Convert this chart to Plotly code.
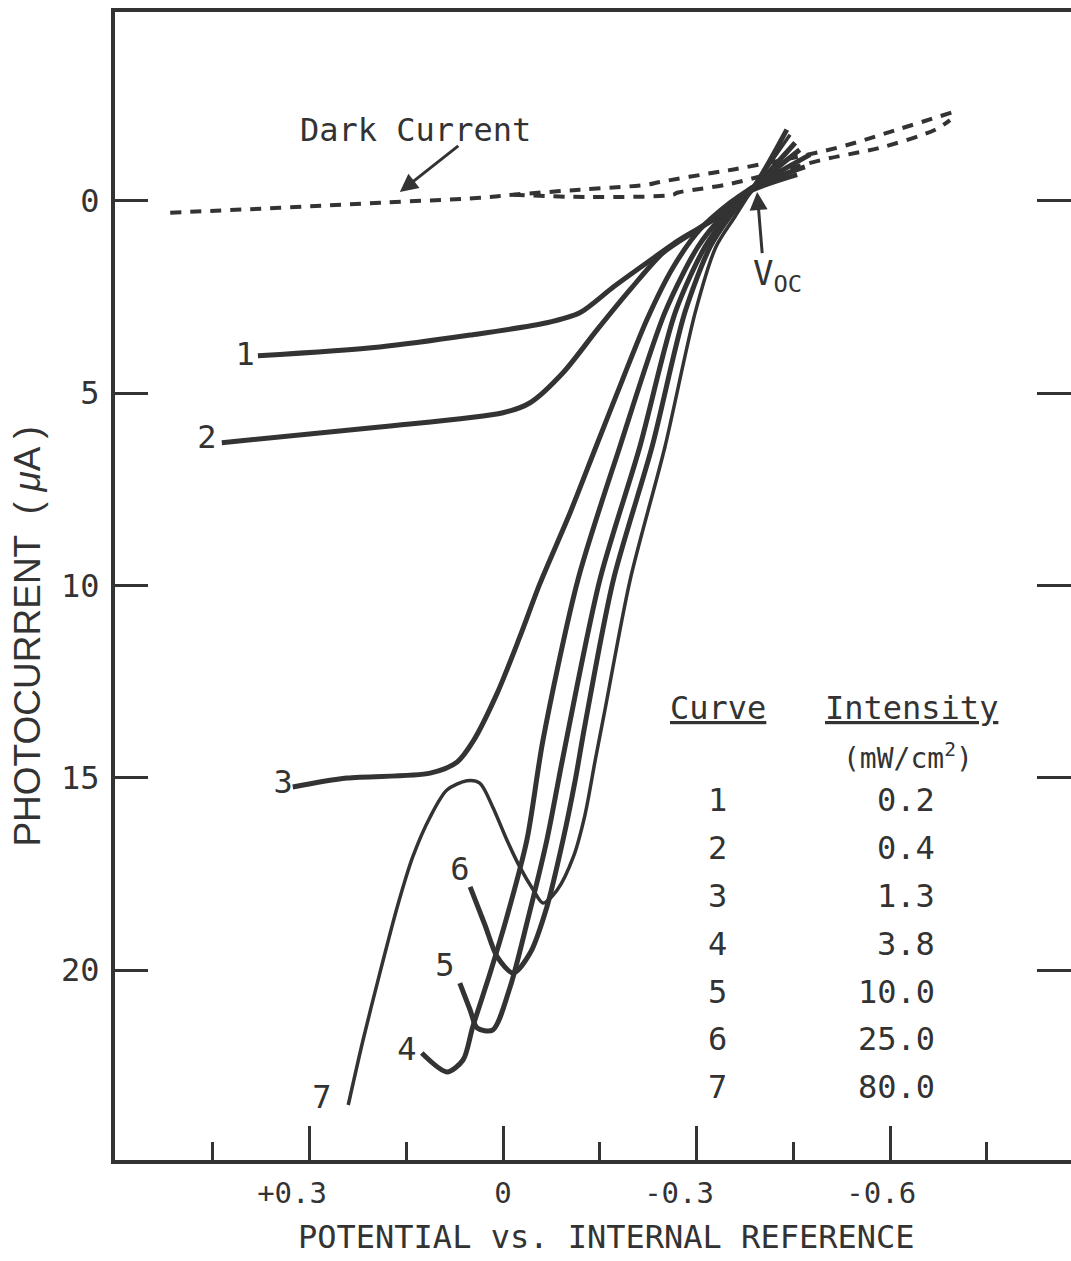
import plotly.graph_objects as go

# ---------------- data (potential V, photocurrent uA) ----------------
c1_v = [0.380, 0.191, 0.051, -0.068, -0.119, -0.171, -0.223, -0.274, -0.326, -0.378, -0.456]
c1_i = [4.03, 3.80, 3.49, 3.17, 2.91, 2.24, 1.61, 1.01, 0.49, -0.21, -0.68]

c2_v = [0.436, 0.191, 0.000, -0.042, -0.093, -0.146, -0.197, -0.248, -0.301, -0.352, -0.386, -0.468]
c2_i = [6.29, 5.88, 5.51, 5.25, 4.47, 3.35, 2.31, 1.35, 0.75, 0.16, -0.34, -0.88]

c3_v = [0.326, 0.242, 0.113, 0.071, 0.047, 0.009, -0.026, -0.057, -0.104, -0.144, -0.185, -0.223, -0.264, -0.305, -0.352, -0.386, -0.476]
c3_i = [15.24, 15.01, 14.88, 14.59, 14.07, 12.80, 11.34, 9.96, 8.11, 6.40, 4.66, 3.09, 1.72, 0.75, 0.05, -0.34, -1.20]

c4_v = [0.126, 0.087, 0.062, 0.047, 0.020, -0.006, -0.037, -0.062, -0.116, -0.181, -0.251, -0.302, -0.340, -0.386, -0.453]
c4_i = [22.16, 22.65, 22.34, 21.48, 20.08, 18.62, 16.62, 14.02, 9.86, 6.40, 2.90, 1.20, 0.40, -0.29, -1.51]

c5_v = [0.067, 0.051, 0.040, 0.016, -0.011, -0.037, -0.068, -0.093, -0.150, -0.212, -0.267, -0.313, -0.347, -0.386, -0.440]
c5_i = [20.34, 21.04, 21.51, 21.56, 20.44, 18.78, 16.62, 14.46, 9.86, 6.40, 2.90, 1.20, 0.40, -0.29, -1.85]

c6_v = [0.051, 0.028, 0.009, -0.016, -0.042, -0.068, -0.093, -0.112, -0.127, -0.171, -0.231, -0.282, -0.321, -0.352, -0.386, -0.460]
c6_i = [17.84, 18.83, 19.66, 20.08, 19.56, 18.36, 16.62, 15.06, 13.63, 9.86, 6.40, 2.90, 1.20, 0.40, -0.29, -1.33]

c7_v = [0.240, 0.217, 0.191, 0.164, 0.140, 0.113, 0.087, 0.056, 0.036, 0.016, -0.006, -0.026, -0.047, -0.062, -0.084, -0.109, -0.127, -0.143, -0.158, -0.197, -0.251, -0.298, -0.330, -0.360, -0.386, -0.445]
c7_i = [23.51, 21.82, 20.08, 18.36, 17.06, 16.02, 15.32, 15.08, 15.14, 15.76, 16.62, 17.32, 17.92, 18.26, 17.92, 17.06, 15.97, 14.54, 13.24, 9.86, 6.40, 2.90, 1.20, 0.40, -0.29, -1.72]

dark_a_v = [0.516, 0.346, 0.191, 0.036, -0.016, -0.119, -0.223, -0.243, -0.326, -0.372, -0.518, -0.611, -0.698]
dark_a_i = [0.31, 0.18, 0.05, -0.08, -0.16, -0.29, -0.42, -0.49, -0.73, -0.86, -1.38, -1.85, -2.31]
dark_b_v = [-0.016, -0.130, -0.264, -0.270, -0.352, -0.496, -0.589, -0.670, -0.693]
dark_b_i = [-0.16, -0.10, -0.16, -0.21, -0.44, -1.07, -1.40, -1.85, -2.10]

curves_v = [c1_v, c2_v, c3_v, c4_v, c5_v, c6_v, c7_v]
curves_i = [c1_i, c2_i, c3_i, c4_i, c5_i, c6_i, c7_i]
curve_names = ["1", "2", "3", "4", "5", "6", "7"]
label_v = [0.400, 0.459, 0.341, 0.149, 0.090, 0.067, 0.281]
label_i = [4.06, 6.22, 15.19, 22.13, 19.95, 17.45, 23.38]
intensities = ["0.2", "0.4", "1.3", "3.8", "10.0", "25.0", "80.0"]

x_tickvals = [0.3, 0.0, -0.3, -0.6]
x_ticktext = ["+0.3\u00a0\u00a0", "0", "-0.3\u00a0\u00a0", "-0.6\u00a0"]
x_minorvals = [0.45, 0.15, -0.15, -0.45, -0.75]
y_tickvals = [0, 5, 10, 15, 20]

INK = "#333333"
MONO = "DejaVu Sans Mono"

fig = go.Figure()

for v, i in [(dark_a_v, dark_a_i), (dark_b_v, dark_b_i)]:
    fig.add_trace(go.Scatter(x=v, y=i, mode="lines", showlegend=False,
                             line=dict(color=INK, width=4, dash="11px,9px", shape="spline")))

for k, (v, i) in enumerate(zip(curves_v, curves_i)):
    fig.add_trace(go.Scatter(x=v, y=i, mode="lines", showlegend=False,
                             line=dict(color=INK, width=3.5 if k == 6 else 5,
                                       shape="spline", smoothing=0.8)))

fig.add_trace(go.Scatter(x=label_v, y=label_i, mode="text", text=curve_names,
                         textfont=dict(family=MONO, size=32, color=INK),
                         showlegend=False))

# invisible trace on the mirrored right axis
fig.add_trace(go.Scatter(x=[None], y=[None], yaxis="y2", showlegend=False))

ann = []
ann.append(dict(x=0.136, y=-1.85, text="Dark Current", showarrow=False,
                font=dict(family=MONO, size=32, color=INK)))
ann.append(dict(x=0.160, y=-0.23, ax=0.067, ay=-1.46, axref="x", ayref="y",
                text="", showarrow=True, arrowhead=2, arrowsize=1.2, arrowwidth=3,
                arrowcolor=INK))
ann.append(dict(x=-0.425, y=1.95, text="V<sub>OC</sub>", showarrow=False,
                font=dict(family=MONO, size=34, color=INK)))
ann.append(dict(x=-0.394, y=-0.23, ax=-0.402, ay=1.40, axref="x", ayref="y",
                text="", showarrow=True, arrowhead=2, arrowsize=1.2, arrowwidth=3,
                arrowcolor=INK))
ann.append(dict(x=-0.333, y=13.2, text="<u>Curve</u>", showarrow=False,
                font=dict(family=MONO, size=32, color=INK)))
ann.append(dict(x=-0.634, y=13.2, text="<u>Intensity</u>", showarrow=False,
                font=dict(family=MONO, size=32, color=INK)))
ann.append(dict(x=-0.628, y=14.45, text="(mW/cm<sup>2</sup>)", showarrow=False,
                font=dict(family=MONO, size=28, color=INK)))
row0, step = 15.58, 1.245
for k, (n, s) in enumerate(zip(curve_names, intensities)):
    ann.append(dict(x=-0.333, y=row0 + k * step, text=n, showarrow=False,
                    font=dict(family=MONO, size=32, color=INK)))
    ann.append(dict(x=-0.673, y=row0 + k * step, text=s, showarrow=False, xanchor="right",
                    font=dict(family=MONO, size=32, color=INK)))
ann.append(dict(xref="paper", yref="paper", x=0.514, y=-0.067, xanchor="center",
                yanchor="middle", text="POTENTIAL vs. INTERNAL REFERENCE", showarrow=False,
                font=dict(family=MONO, size=32, color=INK)))
ann.append(dict(xref="paper", yref="paper", x=-0.092, y=0.456, xanchor="center",
                yanchor="middle", textangle=-90,
                text="PHOTOCURRENT\u00a0\u00a0( <i>\u03bc</i>A )", showarrow=False,
                font=dict(family="Liberation Sans", size=37, color=INK)))

fig.update_layout(
    width=1071, height=1261,
    margin=dict(l=115, r=0, t=12, b=101),
    paper_bgcolor="white", plot_bgcolor="white",
    annotations=ann,
    xaxis=dict(range=[0.6016, -0.8806], showgrid=False, zeroline=False,
               showline=True, linecolor=INK, linewidth=4, mirror=True,
               ticks="inside", ticklen=34, tickwidth=3, tickcolor=INK,
               tickvals=x_tickvals, ticktext=x_ticktext, ticklabelstandoff=4,
               tickfont=dict(family=MONO, size=29, color=INK),
               minor=dict(tickvals=x_minorvals, ticks="inside", ticklen=18,
                          tickwidth=3, tickcolor=INK, showgrid=False)),
    yaxis=dict(range=[24.94, -4.91], showgrid=False, zeroline=False,
               showline=True, linecolor=INK, linewidth=4,
               ticks="inside", ticklen=33, tickwidth=3, tickcolor=INK,
               tickvals=y_tickvals, ticklabelstandoff=5,
               tickfont=dict(family=MONO, size=32, color=INK)),
    yaxis2=dict(overlaying="y", side="right", matches="y", showgrid=False,
                zeroline=False, showline=False, ticks="inside", ticklen=34,
                tickwidth=3, tickcolor=INK, tickvals=y_tickvals,
                showticklabels=False),
)

fig.write_html("out.html")
